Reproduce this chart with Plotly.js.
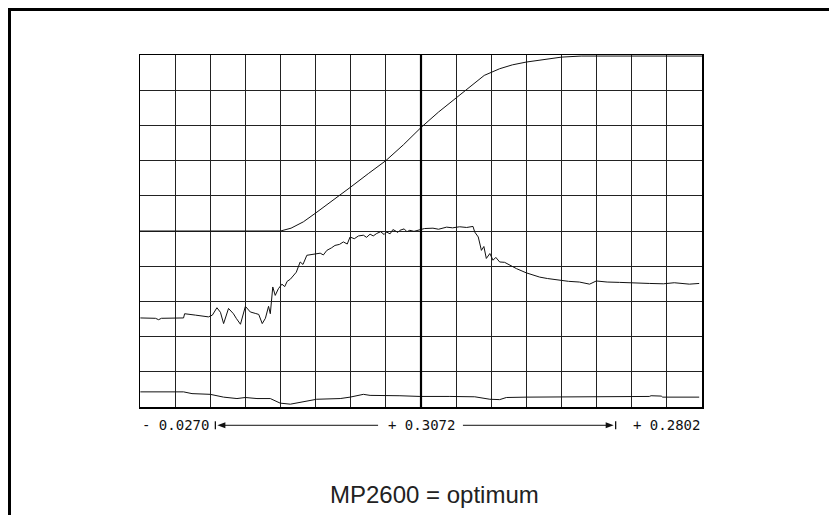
<!DOCTYPE html>
<html>
<head>
<meta charset="utf-8">
<script src="https://cdn.plot.ly/plotly-3.0.1.min.js"></script>
<style>
html,body{margin:0;padding:0;background:#fff;}
#wrap{position:relative;width:829px;height:515px;overflow:hidden;}
#chart{position:absolute;left:0;top:0;width:829px;height:515px;}
#frameTop{position:absolute;left:8px;top:8px;width:821px;height:3px;background:#000;}
#frameLeft{position:absolute;left:8px;top:8px;width:3px;height:507px;background:#000;}
</style>
</head>
<body>
<div id="wrap">
<div id="chart"></div>
<div id="frameTop"></div>
<div id="frameLeft"></div>
</div>
<script>
// Grid units: x 0..16 divisions, y 0..10 divisions
const posX = [0,1,2,3,3.9,4.0,4.3,4.65,5.0,5.5,6.0,6.5,7.0,7.5,8.0,8.5,9.1,9.5,9.8,10.24,10.6,11.0,11.5,12.0,12.56,14,16];
const posY = [5,5,5,5,5,5.0,5.08,5.26,5.51,5.87,6.25,6.63,7.0,7.45,7.94,8.38,8.86,9.2,9.42,9.61,9.72,9.8,9.88,9.94,9.97,9.97,9.97];

const velX = [0.01,0.44,0.53,0.61,1.24,1.27,1.58,1.95,2.06,2.19,2.29,2.38,2.52,2.66,2.74,2.86,3.0,3.14,3.28,3.38,3.48,3.57,3.66,3.71,3.78,3.85,3.94,4.04,4.12,4.19,4.28,4.37,4.45,4.56,4.64,4.75,4.99,5.13,5.22,5.32,5.45,5.55,5.68,5.79,5.9,5.98,6.1,6.22,6.36,6.45,6.55,6.64,6.74,6.85,6.95,7.02,7.12,7.2,7.26,7.34,7.40,7.52,7.6,7.68,7.8,7.95,8.1,8.34,8.5,8.73,8.9,9.1,9.3,9.48,9.53,9.63,9.72,9.79,9.86,9.96,10.05,10.13,10.24,10.38,10.53,10.72,11.0,11.2,11.38,11.6,11.95,12.2,12.51,12.8,12.99,13.3,13.65,14.0,14.5,14.9,15.21,15.64,15.92];
const velY = [2.53,2.52,2.48,2.52,2.53,2.65,2.61,2.56,2.61,2.82,2.69,2.37,2.80,2.65,2.52,2.35,2.86,2.70,2.66,2.63,2.37,2.52,2.86,2.65,3.41,3.17,3.36,3.49,3.42,3.57,3.63,3.74,3.83,4.12,4.05,4.31,4.36,4.37,4.32,4.45,4.52,4.59,4.62,4.69,4.63,4.83,4.78,4.86,4.88,4.82,4.91,4.86,4.93,4.98,4.90,4.97,4.92,5.04,5.01,4.96,5.02,5.06,4.98,5.02,4.99,5.04,5.07,5.08,5.05,5.11,5.09,5.12,5.10,5.13,4.97,4.83,4.45,4.56,4.22,4.36,4.17,4.25,4.12,4.11,4.03,3.93,3.81,3.75,3.69,3.65,3.60,3.57,3.55,3.49,3.58,3.55,3.54,3.52,3.51,3.50,3.53,3.49,3.51];

const lowX = [0.01,1.24,1.48,2.0,2.38,2.76,3.0,3.33,3.71,3.99,4.28,4.65,5.03,5.7,5.98,6.36,6.55,7.4,7.97,8.82,9.53,9.96,10.24,10.43,11.0,14.5,14.55,14.84,14.88,15.92];
const lowY = [0.43,0.43,0.38,0.36,0.28,0.24,0.27,0.24,0.24,0.11,0.08,0.14,0.22,0.24,0.28,0.36,0.33,0.32,0.30,0.30,0.29,0.22,0.21,0.27,0.28,0.30,0.32,0.31,0.28,0.28];

const leftLabel = "- 0.0270";
const midLabel = "+ 0.3072";
const rightLabel = "+ 0.2802";
const titleText = "MP2600 = optimum";

// pixel helpers for decorations (plot area: x 139.5..702.5, y 54.5..406.7)
const PL = 139.5, PW = 563, PT = 54.5, PH = 352.2;
const ux = px => (px - PL) / PW * 16;
const xp = px => (px - PL) / PW;
const yp = py => (PT + PH - py) / PH;

const lineStyle = {color:'#111', width:1};
const traces = [
  {x:posX, y:posY, mode:'lines', line:lineStyle, hoverinfo:'skip'},
  {x:velX, y:velY, mode:'lines', line:lineStyle, hoverinfo:'skip'},
  {x:lowX, y:lowY, mode:'lines', line:lineStyle, hoverinfo:'skip'}
];

const annY = yp(425);
const mono = {family:'DejaVu Sans Mono, monospace', size:14, color:'#111'};
const shapes = [
  {type:'line', xref:'x', yref:'y', x0:8, x1:8, y0:0, y1:10, line:{color:'#000', width:2.2}, layer:'above'},
  {type:'line', xref:'paper', yref:'paper', x0:xp(222), x1:xp(378), y0:annY, y1:annY, line:{color:'#111', width:1}},
  {type:'line', xref:'paper', yref:'paper', x0:xp(463), x1:xp(610), y0:annY, y1:annY, line:{color:'#111', width:1}},
  {type:'line', xref:'paper', yref:'paper', x0:xp(215), x1:xp(215), y0:yp(421), y1:yp(429), line:{color:'#111', width:1.3}},
  {type:'line', xref:'paper', yref:'paper', x0:xp(616), x1:xp(616), y0:yp(421), y1:yp(429), line:{color:'#111', width:1.3}},
  {type:'path', xref:'paper', yref:'paper', path:`M ${xp(217)},${annY} L ${xp(225)},${yp(422)} L ${xp(225)},${yp(428)} Z`, fillcolor:'#111', line:{width:0}},
  {type:'path', xref:'paper', yref:'paper', path:`M ${xp(614)},${annY} L ${xp(606)},${yp(422)} L ${xp(606)},${yp(428)} Z`, fillcolor:'#111', line:{width:0}}
];

const annotations = [
  {xref:'paper', yref:'paper', x:xp(140), y:annY, text:leftLabel, showarrow:false, xanchor:'left', yanchor:'middle', font:mono},
  {xref:'paper', yref:'paper', x:xp(421), y:annY, text:midLabel, showarrow:false, xanchor:'center', yanchor:'middle', font:mono},
  {xref:'paper', yref:'paper', x:xp(703), y:annY, text:rightLabel, showarrow:false, xanchor:'right', yanchor:'middle', font:mono},
  {xref:'paper', yref:'paper', x:xp(435), y:yp(494), text:titleText, showarrow:false, xanchor:'center', yanchor:'middle',
   font:{family:'Liberation Sans, Arial, sans-serif', size:24, color:'#222'}}
];

const axisCommon = {showticklabels:false, ticks:'', zeroline:false, showgrid:true, gridcolor:'#222', gridwidth:1,
  showline:true, mirror:true, linecolor:'#000', linewidth:1.5, dtick:1, tick0:0, fixedrange:true};

const layout = {
  width:829, height:515,
  margin:{l:PL, r:829-PL-PW, t:PT, b:515-PT-PH, pad:0},
  paper_bgcolor:'#fff', plot_bgcolor:'#fff',
  showlegend:false,
  xaxis:Object.assign({range:[0,16]}, axisCommon),
  yaxis:Object.assign({range:[0,10]}, axisCommon),
  shapes:shapes,
  annotations:annotations
};

Plotly.newPlot('chart', traces, layout, {staticPlot:true, displayModeBar:false});
</script>
</body>
</html>
